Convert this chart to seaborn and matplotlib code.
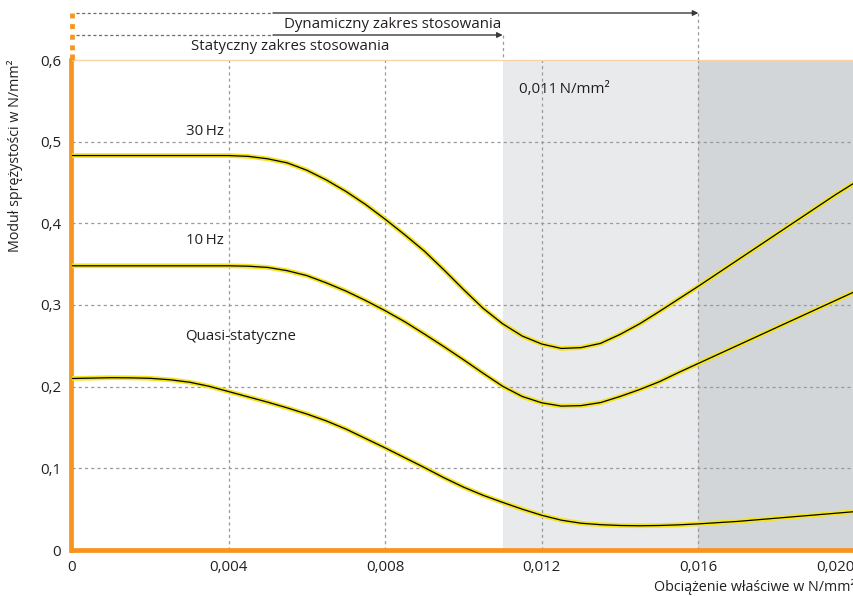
import matplotlib
matplotlib.use("Agg")
import matplotlib.pyplot as plt
from matplotlib import patheffects as pe
import numpy as np
import pandas as pd
import seaborn as sns

# ---------------- data ----------------
load = [0.0000, 0.0005, 0.0010, 0.0015, 0.0020, 0.0025, 0.0030, 0.0035, 0.0040,
        0.0045, 0.0050, 0.0055, 0.0060, 0.0065, 0.0070, 0.0075, 0.0080, 0.0085,
        0.0090, 0.0095, 0.0100, 0.0105, 0.0110, 0.0115, 0.0120, 0.0125, 0.0130,
        0.0135, 0.0140, 0.0145, 0.0150, 0.0155, 0.0160, 0.0165, 0.0170, 0.0175,
        0.0180, 0.0185, 0.0190, 0.0195, 0.0200]

hz30 = [0.483, 0.483, 0.483, 0.483, 0.483, 0.483, 0.483, 0.483, 0.483,
        0.482, 0.479, 0.474, 0.465, 0.453, 0.439, 0.423, 0.405, 0.386,
        0.366, 0.343, 0.319, 0.296, 0.277, 0.262, 0.2522, 0.2468, 0.2478,
        0.253, 0.264, 0.277, 0.292, 0.3075, 0.323, 0.339, 0.355, 0.371,
        0.387, 0.403, 0.419, 0.435, 0.450]

hz10 = [0.348, 0.348, 0.348, 0.348, 0.348, 0.348, 0.348, 0.348, 0.348,
        0.3475, 0.346, 0.342, 0.336, 0.327, 0.317, 0.3055, 0.293, 0.2795,
        0.2645, 0.249, 0.233, 0.2165, 0.2005, 0.188, 0.1802, 0.1762, 0.1768,
        0.1805, 0.188, 0.1965, 0.206, 0.2175, 0.2285, 0.2395, 0.2505, 0.2615,
        0.2725, 0.2835, 0.2945, 0.3055, 0.3165]

quasi = [0.210, 0.2105, 0.211, 0.2108, 0.2102, 0.2085, 0.2055, 0.2005, 0.194,
         0.1875, 0.181, 0.174, 0.1665, 0.158, 0.148, 0.1365, 0.125, 0.113,
         0.101, 0.0885, 0.077, 0.067, 0.0583, 0.050, 0.0425, 0.0365, 0.0328,
         0.031, 0.030, 0.0297, 0.030, 0.0308, 0.032, 0.0335, 0.035, 0.037,
         0.039, 0.041, 0.043, 0.045, 0.047]

series_names = ["30\u2009Hz", "10\u2009Hz", "Quasi-statyczne"]
label_pos_x = [0.0029, 0.0029, 0.0029]
label_pos_y = [0.513, 0.379, 0.261]

x_ticks = [0.000, 0.004, 0.008, 0.012, 0.016, 0.020]
x_tick_labels = ["0", "0,004", "0,008", "0,012", "0,016", "0,020"]
y_ticks = [0.0, 0.1, 0.2, 0.3, 0.4, 0.5, 0.6]
y_tick_labels = ["0", "0,1", "0,2", "0,3", "0,4", "0,5", "0,6"]

static_limit = 0.011
dynamic_limit = 0.016
x_max = 0.020

# ---------------- styling ----------------
sns.set_theme(style="white")
plt.rcParams["font.family"] = ["Open Sans", "DejaVu Sans"]

ORANGE = "#F7941D"
TXT = "#231F20"
FS = 10.8
FS_AX = 10.3

df = pd.DataFrame({
    "load": load * 3,
    "value": hz30 + hz10 + quasi,
    "series": [series_names[0]] * len(load) + [series_names[1]] * len(load)
              + [series_names[2]] * len(load),
})

fig = plt.figure(figsize=(8.54, 5.96), dpi=100)
W, H = 854, 596
x0_px, x20_px = 72.0, 855.0
y0_px, y6_px = 550.0, 60.0
ax = fig.add_axes([x0_px / W, (H - y0_px) / H, (x20_px - x0_px) / W, (y0_px - y6_px) / H])
ax.set_xlim(0, x_max)
ax.set_ylim(0, 0.6)

# shaded zones
ax.axvspan(static_limit, dynamic_limit, color="#E9EAEC", lw=0, zorder=0.5)
ax.axvspan(dynamic_limit, x_max, color="#D3D6D9", lw=0, zorder=0.5)

# grid
for xv in x_ticks[1:-1]:
    ax.axvline(xv, color="#9A9A9A", lw=0.9, ls=(0, (2.5, 2.5)), zorder=1.5)
for yv in y_ticks[1:-1]:
    ax.axhline(yv, color="#9A9A9A", lw=0.9, ls=(0, (2.5, 2.5)), zorder=1.5)

# curves
sns.lineplot(data=df, x="load", y="value", units="series", estimator=None,
             color="black", lw=0.9, ax=ax, zorder=4,
             path_effects=[pe.Stroke(linewidth=3.4, foreground="#F3E41F"), pe.Normal()])

for name, lx, ly in zip(series_names, label_pos_x, label_pos_y):
    ax.text(lx, ly, name, fontsize=FS, color=TXT, ha="left", va="center")

ax.text(0.01141, 0.564, "0,011\u2009N/mm²", fontsize=FS, color=TXT, ha="left", va="center")

# axes decoration
ax.set_xticks(x_ticks)
ax.set_xticklabels(x_tick_labels)
ax.set_yticks(y_ticks)
ax.set_yticklabels(y_tick_labels)
ax.tick_params(axis="both", length=0, labelsize=FS, labelcolor=TXT)
ax.tick_params(axis="x", pad=7)
ax.tick_params(axis="y", pad=7)
ax.get_xticklabels()[-1].set_horizontalalignment("right")
ax.set_xlabel("Obciążenie właściwe w N/mm²", fontsize=FS_AX, color=TXT, loc="right", labelpad=3)
ax.set_ylabel("Moduł sprężystości w N/mm²", fontsize=FS_AX, color=TXT, loc="top", labelpad=12)

for s in ["left", "bottom"]:
    ax.spines[s].set_color(ORANGE)
    ax.spines[s].set_linewidth(3.4)
ax.spines["left"].set_position(("outward", 1.0))
ax.spines["top"].set_color("#F8D5A6")
ax.spines["top"].set_linewidth(1.0)
ax.spines["right"].set_visible(False)

# ---- range annotations above the plot ----
def py(px):
    return (y0_px - px) / (y0_px - y6_px) * 0.6

dyn_y = py(13)
stat_y = py(35)
dash_end = (273 - x0_px) / (x20_px - x0_px) * x_max

# orange dotted extension of left spine
ax.plot([0, 0], [py(12.7), py(54)], color=ORANGE, lw=3.4, ls=(0, (1.05, 1.2)),
        solid_capstyle="butt", dash_capstyle="butt", clip_on=False, zorder=5)
ax.plot([0, 0], [py(54), 0.6], color=ORANGE, lw=3.4, solid_capstyle="butt",
        clip_on=False, zorder=5)

for yline, xend in [(dyn_y, dynamic_limit), (stat_y, static_limit)]:
    ax.plot([0.0001, dash_end], [yline, yline], color="#6D6E71", lw=0.9,
            ls=(0, (2.5, 2)), clip_on=False)
    ax.annotate("", xy=(xend, yline), xytext=(dash_end, yline),
                arrowprops=dict(arrowstyle="-|>", color="#3A3A3A", lw=1.0,
                                mutation_scale=8, shrinkA=0, shrinkB=0),
                annotation_clip=False)
    ax.plot([xend, xend], [yline, 0.6], color="#9A9A9A", lw=0.9,
            ls=(0, (2.5, 2.5)), clip_on=False)

ax.text(0.00818, py(24), "Dynamiczny zakres stosowania", fontsize=FS, color=TXT,
        ha="center", va="center", clip_on=False)
ax.text(0.00558, py(46), "Statyczny zakres stosowania", fontsize=FS, color=TXT,
        ha="center", va="center", clip_on=False)

fig.savefig("out.png", dpi=100)
